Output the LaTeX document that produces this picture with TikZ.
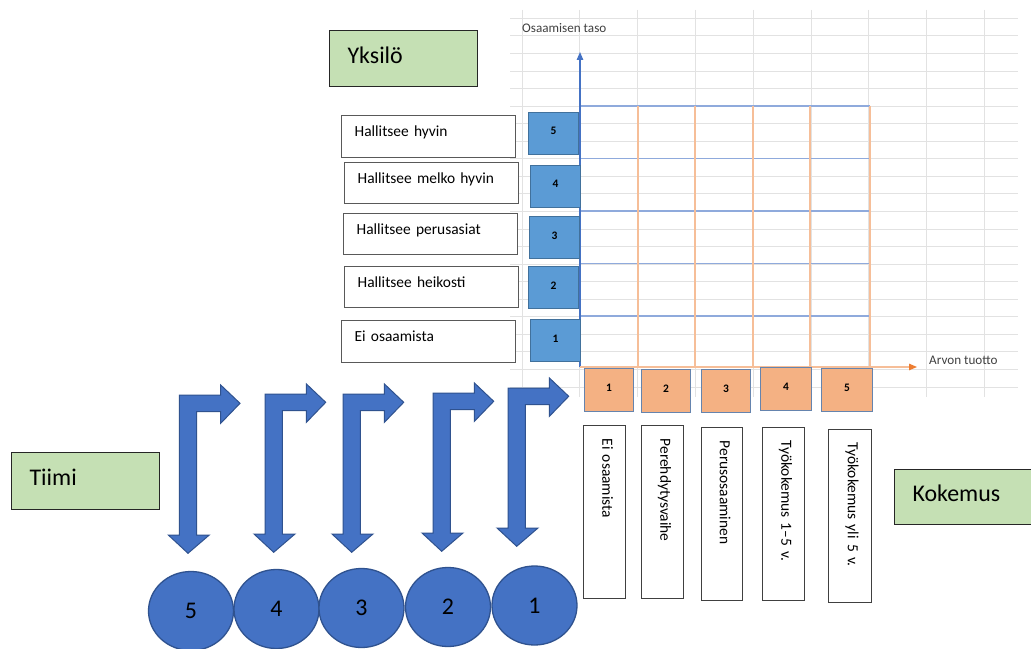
\documentclass[tikz,border=0pt]{standalone}
\usepackage{fontspec}
\setmainfont{Carlito}
\usetikzlibrary{arrows.meta,shapes.geometric}

\definecolor{gridgray}{HTML}{E2E2E2}
\definecolor{greenfill}{HTML}{C5E0B4}
\definecolor{levelblue}{HTML}{5B9BD5}
\definecolor{leveledge}{HTML}{41719C}
\definecolor{expfill}{HTML}{F4B183}
\definecolor{expedge}{HTML}{6584AE}
\definecolor{shapeblue}{HTML}{4472C4}
\definecolor{shapeedge}{HTML}{2F528F}
\definecolor{rowblue}{HTML}{8FAADC}
\definecolor{colorange}{HTML}{F6BE98}
\definecolor{axisorange}{HTML}{ED7D31}
\definecolor{labelgray}{HTML}{404040}
\definecolor{boxedge}{HTML}{595959}

\tikzset{
  gridline/.style={gridgray, line width=0.9bp},
  rowline/.style={rowblue, line width=1.2bp},
  colline/.style={colorange, line width=1.2bp},
  titlebox/.style={draw=black!85, line width=1.2bp, fill=greenfill, anchor=north west,
    minimum height=56bp, text width=112bp, inner xsep=18bp, inner ysep=0bp, align=left,
    font=\fontsize{24}{28}\selectfont, text height=16bp, text depth=6.6bp},
  levelbox/.style={draw=boxedge, line width=1.3bp, fill=white, anchor=north west,
    minimum height=42bp, text width=148bp, inner xsep=13bp, inner ysep=0bp, align=left,
    font=\fontsize{15.5}{18}\selectfont, text height=6bp, text depth=6bp},
  levelnum/.style={draw=leveledge, line width=1.2bp, fill=levelblue, anchor=north west,
    minimum width=50bp, minimum height=42bp, inner sep=0bp,
    font=\bfseries\fontsize{11.5}{13}\selectfont, text height=8bp, text depth=5.2bp},
  expnum/.style={draw=expedge, line width=1.2bp, fill=expfill, anchor=north west,
    minimum width=49bp, minimum height=43bp, inner sep=0bp,
    font=\bfseries\fontsize{11.5}{13}\selectfont, text height=8bp, text depth=5.2bp},
  expbox/.style={draw=labelgray, line width=1.3bp, fill=white, rotate=-90, anchor=north west,
    minimum height=42bp, text width=147bp, inner xsep=13bp, inner ysep=0bp, align=left,
    font=\fontsize{15.5}{18}\selectfont, text height=10bp, text depth=6bp},
  teamball/.style={ellipse, draw=shapeedge, line width=1.3bp, fill=shapeblue,
    minimum width=85bp, minimum height=79bp, inner sep=0bp,
    font=\fontsize{24}{28}\selectfont},
  axislabel/.style={text=labelgray, font=\fontsize{13.2}{15}\selectfont, inner sep=1bp, anchor=west},
  bentarrow/.pic={
    \filldraw[fill=shapeblue, draw=shapeedge, line width=1bp, line join=miter]
      (0,0) -- (41.4,0) -- (41.4,-10) -- (60.7,8.3) -- (41.4,28.3) -- (41.4,16.7)
      -- (17.4,16.7) -- (17.4,140) -- (30,140) -- (8.7,158.3) -- (-11,140)
      -- (0,140) -- cycle;
  }
}

\begin{document}
\begin{tikzpicture}[x=1bp, y=-1bp]
\useasboundingbox[fill=white] (0,0) rectangle (1031,649);

% spreadsheet grid behind the chart
\foreach \k in {0,...,21}
  \draw[gridline] (510,18.4+17.55*\k) -- (1018,18.4+17.55*\k);
\foreach \k in {0,...,8}
  \draw[gridline] (522+57.8*\k,10) -- (522+57.8*\k,397);

% chart cells
\foreach \y in {106,158.5,211,263.5,316}
  \draw[rowline] (580,\y) -- (870,\y);
\foreach \x in {638,695,753,810,870}
  \draw[colline] (\x,106) -- (\x,367);

% axes
\coordinate (origin) at (580,367);
\coordinate (ytip) at (580,52);
\coordinate (xtip) at (917,367);
\draw[shapeblue, line width=1.2bp, -{Triangle[length=8bp,width=6.5bp]}] (origin) -- (ytip);
\draw[colorange, line width=1.3bp, -{Triangle[length=8bp,width=6.5bp,color=axisorange]}] (origin) -- (xtip);
\node[axislabel] (ylabel) at (521,28) {Osaamisen taso};
\node[axislabel] (xlabel) at (928,360) {Arvon tuotto};

% titles
\node[titlebox] (yksilo) at (329,30) {Yksilö};
\node[titlebox, minimum height=57bp] (tiimi) at (11,452) {Tiimi};
\node[titlebox, minimum height=55bp] (kokemus) at (894,469) {Kokemus};

% skill levels
\node[levelbox] (l5) at (341,115) {Hallitsee hyvin};
\node[levelbox, minimum height=41bp] (l4) at (344,162) {Hallitsee melko hyvin};
\node[levelbox, minimum height=41bp] (l3) at (343,213) {Hallitsee perusasiat};
\node[levelbox, minimum height=41bp] (l2) at (344,266) {Hallitsee heikosti};
\node[levelbox] (l1) at (341,320) {Ei osaamista};

\node[levelnum] (n5) at (528,112) {5};
\node[levelnum] (n4) at (530,165) {4};
\node[levelnum] (n3) at (529,216) {3};
\node[levelnum] (n2) at (528,266) {2};
\node[levelnum] (n1) at (530,319) {1};

% experience levels
\node[expnum] (e1) at (584,368) {1};
\node[expnum] (e2) at (641,369) {2};
\node[expnum] (e3) at (701,369) {3};
\node[expnum, minimum width=51bp] (e4) at (760,367) {4};
\node[expnum, minimum width=51bp] (e5) at (821,368) {5};

\node[expbox] (k1) at (626,425) {Ei osaamista};
\node[expbox] (k2) at (684,425) {Perehdytysvaihe};
\node[expbox, minimum height=41bp] (k3) at (743,427) {Perusosaaminen};
\node[expbox] (k4) at (805,427) {Työkokemus 1–5 v.};
\node[expbox, minimum height=43bp] (k5) at (872,429) {Työkokemus yli 5 v.};

% team arrows
\pic (a5) at (179.3,395) {bentarrow};
\pic (a4) at (265,394) {bentarrow};
\pic (a3) at (343,394) {bentarrow};
\pic (a2) at (433,393) {bentarrow};
\pic (a1) at (508,388) {bentarrow};

% team members
\node[teamball] (t5) at (191,611) {5};
\node[teamball] (t4) at (276.5,609) {4};
\node[teamball] (t3) at (361.5,608) {3};
\node[teamball] (t2) at (448,607) {2};
\node[teamball] (t1) at (534.5,605.5) {1};
\end{tikzpicture}
\end{document}
